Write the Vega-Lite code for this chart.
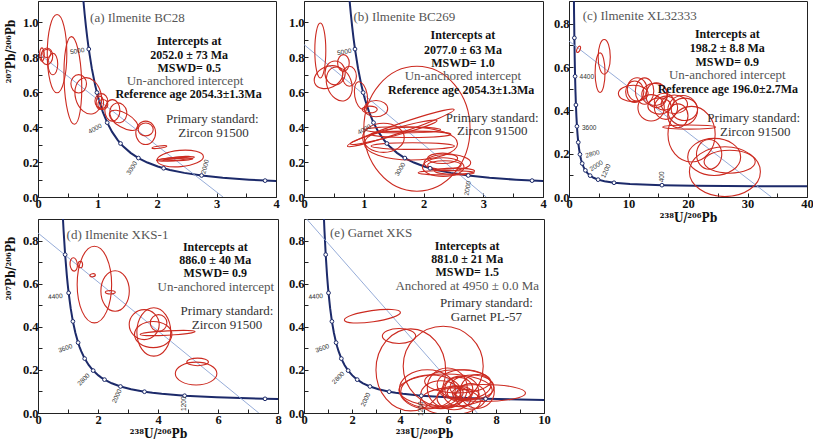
{
"$schema": "https://vega.github.io/schema/vega-lite/v6.json",
"background": "white",
"padding": {"left": 3, "top": 0, "right": 0, "bottom": 0},
"config": {
 "view": {"stroke": "#222", "strokeWidth": 1},
 "axis": {"grid": false, "domainColor": "#222", "tickColor": "#222", "tickSize": -4, "labelPadding": 4, "labelFont": "Liberation Serif", "labelFontSize": 12.5, "labelFontWeight": "bold", "labelColor": "#111", "titleFont": "DejaVu Serif Condensed, DejaVu Serif", "titleFontSize": 12, "titleFontWeight": "bold", "titleColor": "#111", "labelOverlap": false, "labelFlush": false, "titlePadding": 3},
 "axisY": {"titlePadding": 5}
},
"datasets": {
 "conc": [
  {"t":5500,"x":0.7423,"y":1.2067},{"t":5400,"x":0.7628,"y":1.1231},{"t":5300,"x":0.7840,"y":1.0456},{"t":5200,"x":0.8062,"y":0.9737},{"t":5100,"x":0.8292,"y":0.9071},{"t":5000,"x":0.8533,"y":0.8452},{"t":4800,"x":0.9044,"y":0.7346},{"t":4600,"x":0.9603,"y":0.6393},{"t":4500,"x":0.9902,"y":0.5967},{"t":4400,"x":1.0213,"y":0.5571},{"t":4200,"x":1.0887,"y":0.4862},{"t":4000,"x":1.1630,"y":0.4250},{"t":3800,"x":1.2453,"y":0.3721},{"t":3600,"x":1.3369,"y":0.3264},{"t":3500,"x":1.3869,"y":0.3058},{"t":3400,"x":1.4397,"y":0.2867},{"t":3200,"x":1.5558,"y":0.2524},{"t":3000,"x":1.6876,"y":0.2227},{"t":2800,"x":1.8384,"y":0.1968},{"t":2600,"x":2.0130,"y":0.1744},{"t":2500,"x":2.1108,"y":0.1643},{"t":2400,"x":2.2169,"y":0.1548},{"t":2200,"x":2.4585,"y":0.1378},{"t":2000,"x":2.7490,"y":0.1230},{"t":1800,"x":3.1043,"y":0.1100},{"t":1600,"x":3.5496,"y":0.0987},{"t":1500,"x":3.8168,"y":0.0936},{"t":1400,"x":4.1225,"y":0.0888},{"t":1200,"x":4.8878,"y":0.0801},{"t":1000,"x":5.9591,"y":0.0725},{"t":800,"x":7.5678,"y":0.0658},{"t":600,"x":10.252,"y":0.0599},{"t":400,"x":15.621,"y":0.0547},{"t":300,"x":20.992,"y":0.0523},{"t":200,"x":31.735,"y":0.0501},{"t":150,"x":42.479,"y":0.0491}
 ],
 "disc": [
  {"p":"a","x":0,"y":0.8225},{"p":"a","x":3.11,"y":0},
  {"p":"b","x":0,"y":0.871},{"p":"b","x":3.05,"y":0},
  {"p":"c","x":0,"y":0.72},{"p":"c","x":34.0,"y":0},
  {"p":"d","x":0,"y":0.835},{"p":"d","x":7.36,"y":0},
  {"p":"e","x":0,"y":0.914},{"p":"e","x":7.22,"y":0}
 ],
 "clab": [
  {"p":"a","t":"5000","x":0.66,"y":0.834,"ang":-10},{"p":"a","t":"4000","x":0.96,"y":0.39,"ang":-30},{"p":"a","t":"3000","x":1.58,"y":0.165,"ang":-58},{"p":"a","t":"2000","x":2.81,"y":0.173,"ang":-75},
  {"p":"b","t":"5000","x":0.675,"y":0.829,"ang":-10},{"p":"b","t":"4000","x":1.01,"y":0.386,"ang":-30},{"p":"b","t":"3000","x":1.61,"y":0.158,"ang":-60},{"p":"b","t":"2000","x":2.74,"y":0.05,"ang":-80},
  {"p":"c","t":"4400","x":3.0,"y":0.553,"ang":0},{"p":"c","t":"3600","x":3.4,"y":0.32,"ang":0},{"p":"c","t":"2800","x":3.95,"y":0.199,"ang":-15},{"p":"c","t":"2000","x":4.6,"y":0.144,"ang":-35},{"p":"c","t":"1200","x":6.2,"y":0.12,"ang":-65},{"p":"c","t":"400","x":15.55,"y":0.093,"ang":-90},
  {"p":"d","t":"4400","x":0.58,"y":0.54,"ang":-5},{"p":"d","t":"3600","x":0.91,"y":0.3,"ang":-20},{"p":"d","t":"2800","x":1.52,"y":0.155,"ang":-45},{"p":"d","t":"2000","x":2.63,"y":0.078,"ang":-65},{"p":"d","t":"1200","x":4.88,"y":0.043,"ang":-90},
  {"p":"e","t":"4400","x":0.49,"y":0.54,"ang":-5},{"p":"e","t":"3600","x":0.76,"y":0.3,"ang":-20},{"p":"e","t":"2800","x":1.43,"y":0.163,"ang":-45},{"p":"e","t":"2000","x":2.57,"y":0.062,"ang":-65},{"p":"e","t":"1200","x":4.86,"y":0.02,"ang":-90}
 ],
 "ell": [
  {"p":"a","x":0.32,"y":0.819,"s":0.66,"r":"0.25","ang":90},
  {"p":"a","x":0.586,"y":0.666,"s":0.74,"r":"0.2","ang":88},
  {"p":"a","x":0.066,"y":0.814,"s":0.113,"r":"0.35","ang":90},
  {"p":"a","x":0.15,"y":0.804,"s":0.14,"r":"0.7","ang":90},
  {"p":"a","x":0.25,"y":0.76,"s":0.182,"r":"0.45","ang":90},
  {"p":"a","x":0.15,"y":0.82,"s":0.068,"r":"1","ang":0},
  {"p":"a","x":0.684,"y":0.647,"s":0.155,"r":"0.85","ang":90},
  {"p":"a","x":0.845,"y":0.578,"s":0.312,"r":"0.7","ang":75},
  {"p":"a","x":1.065,"y":0.548,"s":0.127,"r":"0.85","ang":90},
  {"p":"a","x":1.09,"y":0.529,"s":0.084,"r":"1","ang":0},
  {"p":"a","x":1.04,"y":0.538,"s":0.113,"r":"0.55","ang":90},
  {"p":"a","x":1.25,"y":0.495,"s":0.182,"r":"0.7","ang":90},
  {"p":"a","x":1.35,"y":0.481,"s":0.169,"r":"0.85","ang":80},
  {"p":"a","x":1.44,"y":0.438,"s":0.27,"r":"0.45","ang":30},
  {"p":"a","x":1.81,"y":0.367,"s":0.197,"r":"0.85","ang":90},
  {"p":"a","x":1.81,"y":0.386,"s":0.127,"r":"0.85","ang":0},
  {"p":"a","x":2.04,"y":0.285,"s":0.127,"r":"0.15","ang":-8},
  {"p":"a","x":2.39,"y":0.22,"s":0.393,"r":"0.35","ang":-5},
  {"p":"a","x":2.31,"y":0.218,"s":0.32,"r":"0.08","ang":-5},
  {"p":"a","x":2.35,"y":0.214,"s":0.253,"r":"0.08","ang":-3},
  {"p":"a","x":2.28,"y":0.222,"s":0.287,"r":"0.04","ang":-6},
  {"p":"b","x":1.89,"y":0.39,"s":1.046,"r":"0.85","ang":90},
  {"p":"b","x":0.273,"y":0.837,"s":0.46,"r":"0.2","ang":90},
  {"p":"b","x":0.41,"y":0.685,"s":0.251,"r":"0.7","ang":-25},
  {"p":"b","x":0.52,"y":0.709,"s":0.2,"r":"0.85","ang":90},
  {"p":"b","x":0.66,"y":0.766,"s":0.139,"r":"0.7","ang":90},
  {"p":"b","x":0.59,"y":0.646,"s":0.293,"r":"0.7","ang":70},
  {"p":"b","x":0.76,"y":0.69,"s":0.167,"r":"0.7","ang":90},
  {"p":"b","x":0.954,"y":0.58,"s":0.234,"r":"0.45","ang":80},
  {"p":"b","x":1.205,"y":0.505,"s":0.196,"r":"0.7","ang":0},
  {"p":"b","x":1.1,"y":0.5,"s":0.126,"r":"0.45","ang":0},
  {"p":"b","x":1.62,"y":0.395,"s":0.944,"r":"0.08","ang":-19},
  {"p":"b","x":1.5,"y":0.37,"s":0.753,"r":"0.08","ang":-15},
  {"p":"b","x":1.65,"y":0.384,"s":0.636,"r":"0.08","ang":0},
  {"p":"b","x":1.79,"y":0.358,"s":0.669,"r":"0.08","ang":0},
  {"p":"b","x":1.82,"y":0.291,"s":0.698,"r":"0.08","ang":0},
  {"p":"b","x":1.79,"y":0.305,"s":0.78,"r":"0.35","ang":0},
  {"p":"b","x":1.33,"y":0.338,"s":0.348,"r":"0.7","ang":0},
  {"p":"b","x":2.4,"y":0.196,"s":0.39,"r":"0.35","ang":0},
  {"p":"b","x":2.33,"y":0.171,"s":0.348,"r":"0.45","ang":0},
  {"p":"b","x":2.32,"y":0.221,"s":0.251,"r":"0.35","ang":0},
  {"p":"b","x":2.52,"y":0.148,"s":0.335,"r":"0.15","ang":0},
  {"p":"b","x":2.38,"y":0.139,"s":0.469,"r":"0.08","ang":0},
  {"p":"b","x":2.35,"y":0.183,"s":0.28,"r":"0.25","ang":0},
  {"p":"c","x":1.61,"y":0.682,"s":0.583,"r":"0.45","ang":-65},
  {"p":"c","x":5.92,"y":0.647,"s":2.917,"r":"0.35","ang":90},
  {"p":"c","x":5.22,"y":0.574,"s":3.333,"r":"0.25","ang":90},
  {"p":"c","x":10.8,"y":0.478,"s":2.5,"r":"0.55","ang":0},
  {"p":"c","x":11.05,"y":0.486,"s":1.8,"r":"0.85","ang":90},
  {"p":"c","x":12.7,"y":0.489,"s":2.217,"r":"0.7","ang":90},
  {"p":"c","x":14.7,"y":0.47,"s":2.083,"r":"0.85","ang":90},
  {"p":"c","x":13.8,"y":0.412,"s":2.217,"r":"1","ang":0},
  {"p":"c","x":15.2,"y":0.42,"s":1.95,"r":"0.7","ang":0},
  {"p":"c","x":16.3,"y":0.412,"s":1.95,"r":"1","ang":0},
  {"p":"c","x":17.7,"y":0.428,"s":2.217,"r":"0.7","ang":0},
  {"p":"c","x":19.4,"y":0.405,"s":2.217,"r":"0.85","ang":0},
  {"p":"c","x":11.45,"y":0.497,"s":1.95,"r":"0.85","ang":90},
  {"p":"c","x":14.4,"y":0.474,"s":2.167,"r":"0.85","ang":0},
  {"p":"c","x":19.1,"y":0.4,"s":2.5,"r":"1","ang":0},
  {"p":"c","x":20.6,"y":0.29,"s":4.667,"r":"0.85","ang":90},
  {"p":"c","x":20.2,"y":0.323,"s":4.45,"r":"0.08","ang":0},
  {"p":"c","x":24.4,"y":0.185,"s":4.45,"r":"0.7","ang":0},
  {"p":"c","x":23.55,"y":0.197,"s":2.5,"r":"0.85","ang":90},
  {"p":"c","x":27,"y":0.163,"s":4.3,"r":"0.45","ang":0},
  {"p":"c","x":26.2,"y":0.117,"s":5.967,"r":"0.7","ang":0},
  {"p":"c","x":16.0,"y":0.44,"s":1.667,"r":"0.85","ang":0},
  {"p":"c","x":18.3,"y":0.375,"s":2.0,"r":"0.85","ang":90},
  {"p":"d","x":1.19,"y":0.689,"s":0.223,"r":"0.55","ang":85},
  {"p":"d","x":1.41,"y":0.689,"s":0.11,"r":"0.7","ang":90},
  {"p":"d","x":1.82,"y":0.639,"s":0.093,"r":"0.55","ang":-10},
  {"p":"d","x":1.88,"y":0.596,"s":1.277,"r":"0.45","ang":90},
  {"p":"d","x":2.57,"y":0.566,"s":0.677,"r":"0.7","ang":90},
  {"p":"d","x":2.41,"y":0.56,"s":0.167,"r":"0.35","ang":0},
  {"p":"d","x":3.54,"y":0.41,"s":0.5,"r":"1","ang":0},
  {"p":"d","x":3.86,"y":0.376,"s":0.807,"r":"0.7","ang":90},
  {"p":"d","x":3.84,"y":0.364,"s":0.623,"r":"0.7","ang":0},
  {"p":"d","x":4.02,"y":0.418,"s":0.277,"r":"1","ang":0},
  {"p":"d","x":4.32,"y":0.371,"s":0.917,"r":"0.08","ang":-3},
  {"p":"d","x":5.27,"y":0.183,"s":0.693,"r":"0.55","ang":0},
  {"p":"d","x":5.32,"y":0.237,"s":0.36,"r":"0.35","ang":0},
  {"p":"e","x":2.85,"y":0.449,"s":1.179,"r":"0.2","ang":-8},
  {"p":"e","x":3.96,"y":0.357,"s":0.696,"r":"0.45","ang":0},
  {"p":"e","x":5.8,"y":0.217,"s":1.667,"r":"1","ang":0},
  {"p":"e","x":4.45,"y":0.2,"s":1.708,"r":"0.85","ang":90},
  {"p":"e","x":5.9,"y":0.105,"s":1.946,"r":"0.35","ang":0},
  {"p":"e","x":7.46,"y":0.093,"s":1.771,"r":"0.2","ang":0},
  {"p":"e","x":5.97,"y":0.116,"s":0.833,"r":"1","ang":0},
  {"p":"e","x":6.53,"y":0.1,"s":0.75,"r":"0.85","ang":0},
  {"p":"e","x":6.67,"y":0.132,"s":1.125,"r":"0.55","ang":0},
  {"p":"e","x":6.25,"y":0.07,"s":0.708,"r":"0.7","ang":0},
  {"p":"e","x":6.95,"y":0.077,"s":0.625,"r":"0.85","ang":0},
  {"p":"e","x":5.7,"y":0.085,"s":0.833,"r":"0.7","ang":0},
  {"p":"e","x":7.22,"y":0.1,"s":0.708,"r":"1","ang":0},
  {"p":"e","x":6.4,"y":0.147,"s":1.375,"r":"0.35","ang":0},
  {"p":"e","x":6.1,"y":0.054,"s":1.25,"r":"0.45","ang":0},
  {"p":"e","x":6.6,"y":0.09,"s":0.417,"r":"0.7","ang":0},
  {"p":"e","x":6.3,"y":0.095,"s":0.333,"r":"0.85","ang":0},
  {"p":"e","x":6.8,"y":0.085,"s":0.5,"r":"0.45","ang":0},
  {"p":"e","x":5.28,"y":0.1,"s":1.25,"r":"0.55","ang":0},
  {"p":"e","x":5.14,"y":0.11,"s":1.167,"r":"0.7","ang":0},
  {"p":"e","x":6.45,"y":0.11,"s":0.583,"r":"0.85","ang":0},
  {"p":"e","x":7.0,"y":0.12,"s":0.917,"r":"0.55","ang":0}
 ],
 "notes": [
  {"p":"a","k":"gray","txt":"(a) Ilmenite BC28","x":1.67,"y":1.024},
  {"p":"a","k":"res","txt":"Intercepts at","x":2.54,"y":0.894},
  {"p":"a","k":"res","txt":"2052.0 ± 73 Ma","x":2.54,"y":0.814},
  {"p":"a","k":"res","txt":"MSWD= 0.5","x":2.54,"y":0.738},
  {"p":"a","k":"gray","txt":"Un-anchored intercept","x":2.47,"y":0.662},
  {"p":"a","k":"res","txt":"Reference age 2054.3±1.3Ma","x":2.53,"y":0.586},
  {"p":"a","k":"std","txt":"Primary standard:","x":2.93,"y":0.443},
  {"p":"a","k":"std","txt":"Zircon  91500","x":2.95,"y":0.367},
  {"p":"b","k":"gray","txt":"(b) Ilmenite BC269","x":1.68,"y":1.027},
  {"p":"b","k":"res","txt":"Intercepts at","x":2.66,"y":0.924},
  {"p":"b","k":"res","txt":"2077.0 ± 63 Ma","x":2.66,"y":0.842},
  {"p":"b","k":"res","txt":"MSWD= 1.0","x":2.66,"y":0.766},
  {"p":"b","k":"gray","txt":"Un-anchored intercept","x":2.66,"y":0.69},
  {"p":"b","k":"res","txt":"Reference age 2054.3±1.3Ma","x":2.63,"y":0.609},
  {"p":"b","k":"std","txt":"Primary standard:","x":3.15,"y":0.452},
  {"p":"b","k":"std","txt":"Zircon  91500","x":3.15,"y":0.377},
  {"p":"c","k":"gray","txt":"(c) Ilmenite XL32333","x":11.9,"y":0.835},
  {"p":"c","k":"res","txt":"Intercepts at","x":26.6,"y":0.751},
  {"p":"c","k":"res","txt":"198.2 ± 8.8 Ma","x":26.6,"y":0.686},
  {"p":"c","k":"res","txt":"MSWD= 0.9","x":26.6,"y":0.624},
  {"p":"c","k":"gray","txt":"Un-anchored intercept","x":26.6,"y":0.563},
  {"p":"c","k":"res","txt":"Reference age 196.0±2.7Ma","x":26.7,"y":0.497},
  {"p":"c","k":"std","txt":"Primary standard:","x":31.05,"y":0.363},
  {"p":"c","k":"std","txt":"Zircon  91500","x":31.3,"y":0.30},
  {"p":"d","k":"gray","txt":"(d) Ilmenite XKS-1","x":2.65,"y":0.828},
  {"p":"d","k":"res","txt":"Intercepts at","x":5.91,"y":0.769},
  {"p":"d","k":"res","txt":"886.0 ± 40 Ma","x":5.91,"y":0.712},
  {"p":"d","k":"res","txt":"MSWD= 0.9","x":5.91,"y":0.65},
  {"p":"d","k":"gray","txt":"Un-anchored intercept","x":5.93,"y":0.583},
  {"p":"d","k":"std","txt":"Primary standard:","x":6.3,"y":0.475},
  {"p":"d","k":"std","txt":"Zircon  91500","x":6.3,"y":0.41},
  {"p":"e","k":"gray","txt":"(e) Garnet XKS","x":2.8,"y":0.835},
  {"p":"e","k":"res","txt":"Intercepts at","x":6.8,"y":0.777},
  {"p":"e","k":"res","txt":"881.0 ± 21 Ma","x":6.8,"y":0.715},
  {"p":"e","k":"res","txt":"MSWD= 1.5","x":6.8,"y":0.653},
  {"p":"e","k":"gray","txt":"Anchored at 4950 ± 0.0 Ma","x":6.8,"y":0.588},
  {"p":"e","k":"std","txt":"Primary standard:","x":7.6,"y":0.51},
  {"p":"e","k":"std","txt":"Garnet PL-57","x":7.6,"y":0.444}
 ]
},
"spacing": 5,
"resolve": {"scale": {"size": "independent", "shape": "independent"}},
"hconcat": [
 {"vconcat": [
  {"width": 238, "height": 196, "layer": [
   {"data": {"name": "conc"}, "mark": {"type": "line", "clip": true, "color": "#1c2a6a", "strokeWidth": 2},
    "encoding": {
     "x": {"field": "x", "type": "quantitative", "scale": {"domain": [0, 4], "nice": false, "zero": false}, "axis": {"title": null, "tickCount": 40, "values": [0,0.5,1,1.5,2,2.5,3,3.5,4], "format": ".0f", "labelOverlap": false, "labelExpr": "datum.value % 1 ? '' : datum.label"}},
     "y": {"field": "y", "type": "quantitative", "scale": {"domain": [0, 1.12], "nice": false, "zero": false}, "axis": {"title": "²⁰⁷Pb/²⁰⁶Pb", "titleY": 50, "tickCount": 40, "values": [0,0.1,0.2,0.3,0.4,0.5,0.6,0.7,0.8,0.9,1.0], "format": ".1f", "labelOverlap": false, "labelExpr": "round(datum.value*10) % 2 ? '' : datum.label"}},
     "order": {"field": "t", "type": "quantitative", "sort": "descending"}}},
   {"data": {"name": "disc"}, "transform": [{"filter": "datum.p == 'a'"}], "mark": {"type": "line", "clip": true, "color": "#8aa3d4", "strokeWidth": 0.9},
    "encoding": {"x": {"field": "x", "type": "quantitative"}, "y": {"field": "y", "type": "quantitative"}}},
   {"data": {"name": "ell"}, "transform": [{"filter": "datum.p == 'a'"}], "mark": {"type": "point", "filled": false, "clip": true, "color": "#cc2a20", "strokeWidth": 1.1, "opacity": 1},
    "encoding": {"x": {"field": "x", "type": "quantitative"}, "y": {"field": "y", "type": "quantitative"},
     "size": {"field": "s", "type": "quantitative", "scale": {"type": "pow", "exponent": 2, "domain": [0, 2], "range": [0, 56169]}, "legend": null},
     "shape": {"field": "r", "type": "nominal", "scale": {"domain": ["1","0.85","0.7","0.55","0.45","0.35","0.25","0.2","0.15","0.08","0.04"], "range": ["M-1,0A1,1,0,1,1,1,0A1,1,0,1,1,-1,0Z","M-1,0A1,0.85,0,1,1,1,0A1,0.85,0,1,1,-1,0Z","M-1,0A1,0.7,0,1,1,1,0A1,0.7,0,1,1,-1,0Z","M-1,0A1,0.55,0,1,1,1,0A1,0.55,0,1,1,-1,0Z","M-1,0A1,0.45,0,1,1,1,0A1,0.45,0,1,1,-1,0Z","M-1,0A1,0.35,0,1,1,1,0A1,0.35,0,1,1,-1,0Z","M-1,0A1,0.25,0,1,1,1,0A1,0.25,0,1,1,-1,0Z","M-1,0A1,0.2,0,1,1,1,0A1,0.2,0,1,1,-1,0Z","M-1,0A1,0.15,0,1,1,1,0A1,0.15,0,1,1,-1,0Z","M-1,0A1,0.08,0,1,1,1,0A1,0.08,0,1,1,-1,0Z","M-1,0A1,0.04,0,1,1,1,0A1,0.04,0,1,1,-1,0Z"]}, "legend": null},
     "angle": {"field": "ang", "type": "quantitative", "scale": null}}},
   {"data": {"name": "conc"}, "transform": [{"filter": "datum.t >= 1500 && datum.t <= 5000 && datum.t % 500 == 0"}], "mark": {"type": "point", "shape": "circle", "filled": true, "fill": "white", "stroke": "#1c2a6a", "strokeWidth": 1, "size": 14, "opacity": 1},
    "encoding": {"x": {"field": "x", "type": "quantitative"}, "y": {"field": "y", "type": "quantitative"}}},
   {"data": {"name": "clab"}, "transform": [{"filter": "datum.p == 'a'"}], "mark": {"type": "text", "font": "Liberation Sans", "fontSize": 6.5, "color": "#333"},
    "encoding": {"x": {"field": "x", "type": "quantitative"}, "y": {"field": "y", "type": "quantitative"}, "text": {"field": "t"}, "angle": {"field": "ang", "type": "quantitative", "scale": null}}},
   {"data": {"name": "notes"}, "transform": [{"filter": "datum.p == 'a' && datum.k == 'res'"}], "mark": {"type": "text", "font": "Liberation Serif", "fontSize": 12, "fontWeight": "bold", "color": "#111"},
    "encoding": {"x": {"field": "x", "type": "quantitative"}, "y": {"field": "y", "type": "quantitative"}, "text": {"field": "txt"}}},
   {"data": {"name": "notes"}, "transform": [{"filter": "datum.p == 'a' && datum.k == 'gray'"}], "mark": {"type": "text", "font": "Liberation Serif", "fontSize": 13, "color": "#555"},
    "encoding": {"x": {"field": "x", "type": "quantitative"}, "y": {"field": "y", "type": "quantitative"}, "text": {"field": "txt"}}},
   {"data": {"name": "notes"}, "transform": [{"filter": "datum.p == 'a' && datum.k == 'std'"}], "mark": {"type": "text", "font": "Liberation Serif", "fontSize": 13, "color": "#333"},
    "encoding": {"x": {"field": "x", "type": "quantitative"}, "y": {"field": "y", "type": "quantitative"}, "text": {"field": "txt"}}}
  ]},
  {"width": 240, "height": 194, "layer": [
   {"data": {"name": "conc"}, "mark": {"type": "line", "clip": true, "color": "#1c2a6a", "strokeWidth": 2},
    "encoding": {
     "x": {"field": "x", "type": "quantitative", "scale": {"domain": [0, 8], "nice": false, "zero": false}, "axis": {"title": "²³⁸U/²⁰⁶Pb", "tickCount": 40, "values": [0,1,2,3,4,5,6,7,8], "format": ".0f", "labelOverlap": false, "labelExpr": "datum.value % 2 ? '' : datum.label"}},
     "y": {"field": "y", "type": "quantitative", "scale": {"domain": [0, 0.9], "nice": false, "zero": false}, "axis": {"title": "²⁰⁷Pb/²⁰⁶Pb", "titleY": 49, "tickCount": 40, "values": [0,0.1,0.2,0.3,0.4,0.5,0.6,0.7,0.8], "format": ".1f", "labelOverlap": false, "labelExpr": "round(datum.value*10) % 2 ? '' : datum.label"}},
     "order": {"field": "t", "type": "quantitative", "sort": "descending"}}},
   {"data": {"name": "disc"}, "transform": [{"filter": "datum.p == 'd'"}], "mark": {"type": "line", "clip": true, "color": "#8aa3d4", "strokeWidth": 0.9},
    "encoding": {"x": {"field": "x", "type": "quantitative"}, "y": {"field": "y", "type": "quantitative"}}},
   {"data": {"name": "ell"}, "transform": [{"filter": "datum.p == 'd'"}], "mark": {"type": "point", "filled": false, "clip": true, "color": "#cc2a20", "strokeWidth": 1.1, "opacity": 1},
    "encoding": {"x": {"field": "x", "type": "quantitative"}, "y": {"field": "y", "type": "quantitative"},
     "size": {"field": "s", "type": "quantitative", "scale": {"type": "pow", "exponent": 2, "domain": [0, 2], "range": [0, 14400]}, "legend": null},
     "shape": {"field": "r", "type": "nominal", "scale": {"domain": ["1","0.85","0.7","0.55","0.45","0.35","0.25","0.2","0.15","0.08","0.04"], "range": ["M-1,0A1,1,0,1,1,1,0A1,1,0,1,1,-1,0Z","M-1,0A1,0.85,0,1,1,1,0A1,0.85,0,1,1,-1,0Z","M-1,0A1,0.7,0,1,1,1,0A1,0.7,0,1,1,-1,0Z","M-1,0A1,0.55,0,1,1,1,0A1,0.55,0,1,1,-1,0Z","M-1,0A1,0.45,0,1,1,1,0A1,0.45,0,1,1,-1,0Z","M-1,0A1,0.35,0,1,1,1,0A1,0.35,0,1,1,-1,0Z","M-1,0A1,0.25,0,1,1,1,0A1,0.25,0,1,1,-1,0Z","M-1,0A1,0.2,0,1,1,1,0A1,0.2,0,1,1,-1,0Z","M-1,0A1,0.15,0,1,1,1,0A1,0.15,0,1,1,-1,0Z","M-1,0A1,0.08,0,1,1,1,0A1,0.08,0,1,1,-1,0Z","M-1,0A1,0.04,0,1,1,1,0A1,0.04,0,1,1,-1,0Z"]}, "legend": null},
     "angle": {"field": "ang", "type": "quantitative", "scale": null}}},
   {"data": {"name": "conc"}, "transform": [{"filter": "datum.t >= 800 && datum.t <= 4800 && datum.t % 400 == 0"}], "mark": {"type": "point", "shape": "circle", "filled": true, "fill": "white", "stroke": "#1c2a6a", "strokeWidth": 1, "size": 14, "opacity": 1},
    "encoding": {"x": {"field": "x", "type": "quantitative"}, "y": {"field": "y", "type": "quantitative"}}},
   {"data": {"name": "clab"}, "transform": [{"filter": "datum.p == 'd'"}], "mark": {"type": "text", "font": "Liberation Sans", "fontSize": 6.5, "color": "#333"},
    "encoding": {"x": {"field": "x", "type": "quantitative"}, "y": {"field": "y", "type": "quantitative"}, "text": {"field": "t"}, "angle": {"field": "ang", "type": "quantitative", "scale": null}}},
   {"data": {"name": "notes"}, "transform": [{"filter": "datum.p == 'd' && datum.k == 'res'"}], "mark": {"type": "text", "font": "Liberation Serif", "fontSize": 12, "fontWeight": "bold", "color": "#111"},
    "encoding": {"x": {"field": "x", "type": "quantitative"}, "y": {"field": "y", "type": "quantitative"}, "text": {"field": "txt"}}},
   {"data": {"name": "notes"}, "transform": [{"filter": "datum.p == 'd' && datum.k == 'gray'"}], "mark": {"type": "text", "font": "Liberation Serif", "fontSize": 13, "color": "#555"},
    "encoding": {"x": {"field": "x", "type": "quantitative"}, "y": {"field": "y", "type": "quantitative"}, "text": {"field": "txt"}}},
   {"data": {"name": "notes"}, "transform": [{"filter": "datum.p == 'd' && datum.k == 'std'"}], "mark": {"type": "text", "font": "Liberation Serif", "fontSize": 13, "color": "#333"},
    "encoding": {"x": {"field": "x", "type": "quantitative"}, "y": {"field": "y", "type": "quantitative"}, "text": {"field": "txt"}}}
  ]}
 ], "spacing": 22, "bounds": "flush", "resolve": {"scale": {"size": "independent", "shape": "independent"}}},
 {"hconcat": [
  {"vconcat": [
   {"width": 239, "height": 196, "layer": [
    {"data": {"name": "conc"}, "mark": {"type": "line", "clip": true, "color": "#1c2a6a", "strokeWidth": 2},
     "encoding": {
      "x": {"field": "x", "type": "quantitative", "scale": {"domain": [0, 4], "nice": false, "zero": false}, "axis": {"title": null, "tickCount": 40, "values": [0,0.5,1,1.5,2,2.5,3,3.5,4], "format": ".0f", "labelOverlap": false, "labelExpr": "datum.value % 1 ? '' : datum.label"}},
      "y": {"field": "y", "type": "quantitative", "scale": {"domain": [0, 1.12], "nice": false, "zero": false}, "axis": {"title": null, "tickCount": 40, "values": [0,0.1,0.2,0.3,0.4,0.5,0.6,0.7,0.8,0.9,1.0], "format": ".1f", "labelOverlap": false, "labelExpr": "round(datum.value*10) % 2 ? '' : datum.label"}},
      "order": {"field": "t", "type": "quantitative", "sort": "descending"}}},
    {"data": {"name": "disc"}, "transform": [{"filter": "datum.p == 'b'"}], "mark": {"type": "line", "clip": true, "color": "#8aa3d4", "strokeWidth": 0.9},
     "encoding": {"x": {"field": "x", "type": "quantitative"}, "y": {"field": "y", "type": "quantitative"}}},
    {"data": {"name": "ell"}, "transform": [{"filter": "datum.p == 'b'"}], "mark": {"type": "point", "filled": false, "clip": true, "color": "#cc2a20", "strokeWidth": 1.1, "opacity": 1},
     "encoding": {"x": {"field": "x", "type": "quantitative"}, "y": {"field": "y", "type": "quantitative"},
      "size": {"field": "s", "type": "quantitative", "scale": {"type": "pow", "exponent": 2, "domain": [0, 2], "range": [0, 57121]}, "legend": null},
      "shape": {"field": "r", "type": "nominal", "scale": {"domain": ["1","0.85","0.7","0.55","0.45","0.35","0.25","0.2","0.15","0.08","0.04"], "range": ["M-1,0A1,1,0,1,1,1,0A1,1,0,1,1,-1,0Z","M-1,0A1,0.85,0,1,1,1,0A1,0.85,0,1,1,-1,0Z","M-1,0A1,0.7,0,1,1,1,0A1,0.7,0,1,1,-1,0Z","M-1,0A1,0.55,0,1,1,1,0A1,0.55,0,1,1,-1,0Z","M-1,0A1,0.45,0,1,1,1,0A1,0.45,0,1,1,-1,0Z","M-1,0A1,0.35,0,1,1,1,0A1,0.35,0,1,1,-1,0Z","M-1,0A1,0.25,0,1,1,1,0A1,0.25,0,1,1,-1,0Z","M-1,0A1,0.2,0,1,1,1,0A1,0.2,0,1,1,-1,0Z","M-1,0A1,0.15,0,1,1,1,0A1,0.15,0,1,1,-1,0Z","M-1,0A1,0.08,0,1,1,1,0A1,0.08,0,1,1,-1,0Z","M-1,0A1,0.04,0,1,1,1,0A1,0.04,0,1,1,-1,0Z"]}, "legend": null},
      "angle": {"field": "ang", "type": "quantitative", "scale": null}}},
    {"data": {"name": "conc"}, "transform": [{"filter": "datum.t >= 1500 && datum.t <= 5000 && datum.t % 500 == 0"}], "mark": {"type": "point", "shape": "circle", "filled": true, "fill": "white", "stroke": "#1c2a6a", "strokeWidth": 1, "size": 14, "opacity": 1},
     "encoding": {"x": {"field": "x", "type": "quantitative"}, "y": {"field": "y", "type": "quantitative"}}},
    {"data": {"name": "clab"}, "transform": [{"filter": "datum.p == 'b'"}], "mark": {"type": "text", "font": "Liberation Sans", "fontSize": 6.5, "color": "#333"},
     "encoding": {"x": {"field": "x", "type": "quantitative"}, "y": {"field": "y", "type": "quantitative"}, "text": {"field": "t"}, "angle": {"field": "ang", "type": "quantitative", "scale": null}}},
    {"data": {"name": "notes"}, "transform": [{"filter": "datum.p == 'b' && datum.k == 'res'"}], "mark": {"type": "text", "font": "Liberation Serif", "fontSize": 12, "fontWeight": "bold", "color": "#111"},
     "encoding": {"x": {"field": "x", "type": "quantitative"}, "y": {"field": "y", "type": "quantitative"}, "text": {"field": "txt"}}},
    {"data": {"name": "notes"}, "transform": [{"filter": "datum.p == 'b' && datum.k == 'gray'"}], "mark": {"type": "text", "font": "Liberation Serif", "fontSize": 13, "color": "#555"},
     "encoding": {"x": {"field": "x", "type": "quantitative"}, "y": {"field": "y", "type": "quantitative"}, "text": {"field": "txt"}}},
    {"data": {"name": "notes"}, "transform": [{"filter": "datum.p == 'b' && datum.k == 'std'"}], "mark": {"type": "text", "font": "Liberation Serif", "fontSize": 13, "color": "#333"},
     "encoding": {"x": {"field": "x", "type": "quantitative"}, "y": {"field": "y", "type": "quantitative"}, "text": {"field": "txt"}}}
   ]},
   {"width": 240, "height": 194, "layer": [
    {"data": {"name": "conc"}, "mark": {"type": "line", "clip": true, "color": "#1c2a6a", "strokeWidth": 2},
     "encoding": {
      "x": {"field": "x", "type": "quantitative", "scale": {"domain": [0, 10], "nice": false, "zero": false}, "axis": {"title": "²³⁸U/²⁰⁶Pb", "tickCount": 40, "values": [0,1,2,3,4,5,6,7,8,9,10], "format": ".0f", "labelOverlap": false, "labelExpr": "datum.value % 2 ? '' : datum.label"}},
      "y": {"field": "y", "type": "quantitative", "scale": {"domain": [0, 0.9], "nice": false, "zero": false}, "axis": {"title": null, "tickCount": 40, "values": [0,0.1,0.2,0.3,0.4,0.5,0.6,0.7,0.8], "format": ".1f", "labelOverlap": false, "labelExpr": "round(datum.value*10) % 2 ? '' : datum.label"}},
      "order": {"field": "t", "type": "quantitative", "sort": "descending"}}},
    {"data": {"name": "disc"}, "transform": [{"filter": "datum.p == 'e'"}], "mark": {"type": "line", "clip": true, "color": "#8aa3d4", "strokeWidth": 0.9},
     "encoding": {"x": {"field": "x", "type": "quantitative"}, "y": {"field": "y", "type": "quantitative"}}},
    {"data": {"name": "ell"}, "transform": [{"filter": "datum.p == 'e'"}], "mark": {"type": "point", "filled": false, "clip": true, "color": "#cc2a20", "strokeWidth": 1.1, "opacity": 1},
     "encoding": {"x": {"field": "x", "type": "quantitative"}, "y": {"field": "y", "type": "quantitative"},
      "size": {"field": "s", "type": "quantitative", "scale": {"type": "pow", "exponent": 2, "domain": [0, 3], "range": [0, 20736]}, "legend": null},
      "shape": {"field": "r", "type": "nominal", "scale": {"domain": ["1","0.85","0.7","0.55","0.45","0.35","0.25","0.2","0.15","0.08","0.04"], "range": ["M-1,0A1,1,0,1,1,1,0A1,1,0,1,1,-1,0Z","M-1,0A1,0.85,0,1,1,1,0A1,0.85,0,1,1,-1,0Z","M-1,0A1,0.7,0,1,1,1,0A1,0.7,0,1,1,-1,0Z","M-1,0A1,0.55,0,1,1,1,0A1,0.55,0,1,1,-1,0Z","M-1,0A1,0.45,0,1,1,1,0A1,0.45,0,1,1,-1,0Z","M-1,0A1,0.35,0,1,1,1,0A1,0.35,0,1,1,-1,0Z","M-1,0A1,0.25,0,1,1,1,0A1,0.25,0,1,1,-1,0Z","M-1,0A1,0.2,0,1,1,1,0A1,0.2,0,1,1,-1,0Z","M-1,0A1,0.15,0,1,1,1,0A1,0.15,0,1,1,-1,0Z","M-1,0A1,0.08,0,1,1,1,0A1,0.08,0,1,1,-1,0Z","M-1,0A1,0.04,0,1,1,1,0A1,0.04,0,1,1,-1,0Z"]}, "legend": null},
      "angle": {"field": "ang", "type": "quantitative", "scale": null}}},
    {"data": {"name": "conc"}, "transform": [{"filter": "datum.t >= 800 && datum.t <= 4800 && datum.t % 400 == 0"}], "mark": {"type": "point", "shape": "circle", "filled": true, "fill": "white", "stroke": "#1c2a6a", "strokeWidth": 1, "size": 14, "opacity": 1},
     "encoding": {"x": {"field": "x", "type": "quantitative"}, "y": {"field": "y", "type": "quantitative"}}},
    {"data": {"name": "clab"}, "transform": [{"filter": "datum.p == 'e'"}], "mark": {"type": "text", "font": "Liberation Sans", "fontSize": 6.5, "color": "#333"},
     "encoding": {"x": {"field": "x", "type": "quantitative"}, "y": {"field": "y", "type": "quantitative"}, "text": {"field": "t"}, "angle": {"field": "ang", "type": "quantitative", "scale": null}}},
    {"data": {"name": "notes"}, "transform": [{"filter": "datum.p == 'e' && datum.k == 'res'"}], "mark": {"type": "text", "font": "Liberation Serif", "fontSize": 12, "fontWeight": "bold", "color": "#111"},
     "encoding": {"x": {"field": "x", "type": "quantitative"}, "y": {"field": "y", "type": "quantitative"}, "text": {"field": "txt"}}},
    {"data": {"name": "notes"}, "transform": [{"filter": "datum.p == 'e' && datum.k == 'gray'"}], "mark": {"type": "text", "font": "Liberation Serif", "fontSize": 13, "color": "#555"},
     "encoding": {"x": {"field": "x", "type": "quantitative"}, "y": {"field": "y", "type": "quantitative"}, "text": {"field": "txt"}}},
    {"data": {"name": "notes"}, "transform": [{"filter": "datum.p == 'e' && datum.k == 'std'"}], "mark": {"type": "text", "font": "Liberation Serif", "fontSize": 13, "color": "#333"},
     "encoding": {"x": {"field": "x", "type": "quantitative"}, "y": {"field": "y", "type": "quantitative"}, "text": {"field": "txt"}}}
   ]}
  ], "spacing": 22, "bounds": "flush", "resolve": {"scale": {"size": "independent", "shape": "independent"}}},
  {"width": 238, "height": 196, "layer": [
   {"data": {"name": "conc"}, "mark": {"type": "line", "clip": true, "color": "#1c2a6a", "strokeWidth": 2},
    "encoding": {
     "x": {"field": "x", "type": "quantitative", "scale": {"domain": [0, 40], "nice": false, "zero": false}, "axis": {"title": "²³⁸U/²⁰⁶Pb", "tickCount": 40, "values": [0,5,10,15,20,25,30,35,40], "format": ".0f", "labelOverlap": false, "labelExpr": "datum.value % 10 ? '' : datum.label"}},
     "y": {"field": "y", "type": "quantitative", "scale": {"domain": [0, 0.905], "nice": false, "zero": false}, "axis": {"title": null, "tickCount": 40, "values": [0,0.1,0.2,0.3,0.4,0.5,0.6,0.7,0.8], "format": ".1f", "labelOverlap": false, "labelExpr": "round(datum.value*10) % 2 ? '' : datum.label"}},
     "order": {"field": "t", "type": "quantitative", "sort": "descending"}}},
   {"data": {"name": "disc"}, "transform": [{"filter": "datum.p == 'c'"}], "mark": {"type": "line", "clip": true, "color": "#8aa3d4", "strokeWidth": 0.9},
    "encoding": {"x": {"field": "x", "type": "quantitative"}, "y": {"field": "y", "type": "quantitative"}}},
   {"data": {"name": "ell"}, "transform": [{"filter": "datum.p == 'c'"}], "mark": {"type": "point", "filled": false, "clip": true, "color": "#cc2a20", "strokeWidth": 1.1, "opacity": 1},
    "encoding": {"x": {"field": "x", "type": "quantitative"}, "y": {"field": "y", "type": "quantitative"},
     "size": {"field": "s", "type": "quantitative", "scale": {"type": "pow", "exponent": 2, "domain": [0, 10], "range": [0, 14161]}, "legend": null},
     "shape": {"field": "r", "type": "nominal", "scale": {"domain": ["1","0.85","0.7","0.55","0.45","0.35","0.25","0.2","0.15","0.08","0.04"], "range": ["M-1,0A1,1,0,1,1,1,0A1,1,0,1,1,-1,0Z","M-1,0A1,0.85,0,1,1,1,0A1,0.85,0,1,1,-1,0Z","M-1,0A1,0.7,0,1,1,1,0A1,0.7,0,1,1,-1,0Z","M-1,0A1,0.55,0,1,1,1,0A1,0.55,0,1,1,-1,0Z","M-1,0A1,0.45,0,1,1,1,0A1,0.45,0,1,1,-1,0Z","M-1,0A1,0.35,0,1,1,1,0A1,0.35,0,1,1,-1,0Z","M-1,0A1,0.25,0,1,1,1,0A1,0.25,0,1,1,-1,0Z","M-1,0A1,0.2,0,1,1,1,0A1,0.2,0,1,1,-1,0Z","M-1,0A1,0.15,0,1,1,1,0A1,0.15,0,1,1,-1,0Z","M-1,0A1,0.08,0,1,1,1,0A1,0.08,0,1,1,-1,0Z","M-1,0A1,0.04,0,1,1,1,0A1,0.04,0,1,1,-1,0Z"]}, "legend": null},
     "angle": {"field": "ang", "type": "quantitative", "scale": null}}},
   {"data": {"name": "conc"}, "transform": [{"filter": "datum.t >= 400 && datum.t <= 4800 && datum.t % 400 == 0"}], "mark": {"type": "point", "shape": "circle", "filled": true, "fill": "white", "stroke": "#1c2a6a", "strokeWidth": 1, "size": 14, "opacity": 1},
    "encoding": {"x": {"field": "x", "type": "quantitative"}, "y": {"field": "y", "type": "quantitative"}}},
   {"data": {"name": "clab"}, "transform": [{"filter": "datum.p == 'c'"}], "mark": {"type": "text", "font": "Liberation Sans", "fontSize": 6.5, "color": "#333"},
    "encoding": {"x": {"field": "x", "type": "quantitative"}, "y": {"field": "y", "type": "quantitative"}, "text": {"field": "t"}, "angle": {"field": "ang", "type": "quantitative", "scale": null}}},
   {"data": {"name": "notes"}, "transform": [{"filter": "datum.p == 'c' && datum.k == 'res'"}], "mark": {"type": "text", "font": "Liberation Serif", "fontSize": 12, "fontWeight": "bold", "color": "#111"},
    "encoding": {"x": {"field": "x", "type": "quantitative"}, "y": {"field": "y", "type": "quantitative"}, "text": {"field": "txt"}}},
   {"data": {"name": "notes"}, "transform": [{"filter": "datum.p == 'c' && datum.k == 'gray'"}], "mark": {"type": "text", "font": "Liberation Serif", "fontSize": 13, "color": "#555"},
    "encoding": {"x": {"field": "x", "type": "quantitative"}, "y": {"field": "y", "type": "quantitative"}, "text": {"field": "txt"}}},
   {"data": {"name": "notes"}, "transform": [{"filter": "datum.p == 'c' && datum.k == 'std'"}], "mark": {"type": "text", "font": "Liberation Serif", "fontSize": 13, "color": "#333"},
    "encoding": {"x": {"field": "x", "type": "quantitative"}, "y": {"field": "y", "type": "quantitative"}, "text": {"field": "txt"}}}
  ]}
 ], "spacing": 1, "resolve": {"scale": {"size": "independent", "shape": "independent"}}}
]
}
